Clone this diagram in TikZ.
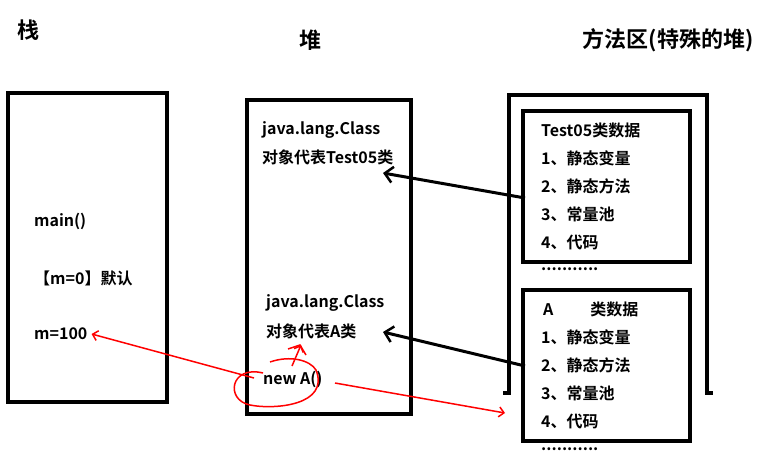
\documentclass[tikz,border=0pt]{standalone}
\usepackage{fontspec}
\setmainfont{Noto Sans CJK SC}[BoldFont={* Bold}]
\usetikzlibrary{positioning,arrows.meta}
\tikzset{
  box/.style={draw,line width=4pt},
  txt/.style={anchor=west,font=\bfseries\fontsize{16}{19}\selectfont,inner sep=0pt},
  title/.style={font=\bfseries\fontsize{22}{26}\selectfont,inner sep=0pt},
  link/.style={line width=3pt,-{Straight Barb[length=8pt,width=16pt,line width=2.5pt]}},
  redlink/.style={red,line width=1.5pt,-{Straight Barb[length=5pt,width=10pt]}}
}
\begin{document}
\begin{tikzpicture}[x=1pt,y=-1pt]
\useasboundingbox (0,0) rectangle (760,458);
%titles
\node[title] (tstack) at (28,30) {栈};
\node[title] (theap) at (310,40) {堆};
\node[title] (tmeth) at (668,40) {方法区(特殊的堆)};
%boxes
\draw[box] (8,93) rectangle (167,402);
\draw[box] (247,100) rectangle (411,414);
\draw[box] (503,393) -- (509,393) -- (509,95) -- (707,95) -- (707,393) -- (713,393);
\draw[box] (523,111) rectangle (690,262);
\draw[box] (523,290) rectangle (690,441);
%stack
\node[txt] (main) at (34,221) {main()};
\node[txt] (m0) at (34,278) {【m=0】默认};
\node[txt] (m100) at (34,334) {m=100};
%heap
\node[txt] (c1a) at (262,130) {java.lang.Class};
\node[txt] (c1b) at (262,157) {对象代表Test05类};
\node[txt] (c2a) at (266,303) {java.lang.Class};
\node[txt] (c2b) at (266,331) {对象代表A类};
\node[txt] (newa) at (263,379) {new A()};
%method area
\foreach \t [count=\i from 0] in {Test05类数据,1、静态变量,2、静态方法,3、常量池,4、代码}
  \node[txt] (ta\i) at (541,130+\i*28) {\t};
\node[txt] (dotsa) at (541,269) {...........};
\node[txt] (tb0) at (543,309) {A\hspace{2.3em}类数据};
\foreach \t [count=\i from 1] in {1、静态变量,2、静态方法,3、常量池,4、代码}
  \node[txt] (tb\i) at (541,309+\i*28) {\t};
\node[txt] (dotsb) at (541,449) {...........};
%links
\coordinate (la) at (525,198);
\coordinate (lb) at (525,366);
\draw[link] (la) -- (383,173);
\draw[link] (lb) -- (383,332);
%red marks
\draw[red,line width=1.5pt] (263,373) .. controls (230,365) and (225,400) .. (250,405)
  .. controls (275,410) and (330,405) .. (316,370) .. controls (310,360) and (290,355) .. (270,362);
\draw[redlink] (254,378) -- ([xshift=4pt]m100.east);
\draw[redlink] (292,366) -- (301,345);
\draw[red,line width=1.5pt] (288,349) -- (300,345) -- (306,355);
\coordinate (rend) at (505,413);
\draw[redlink] (335,383) -- (rend);
\end{tikzpicture}
\end{document}
